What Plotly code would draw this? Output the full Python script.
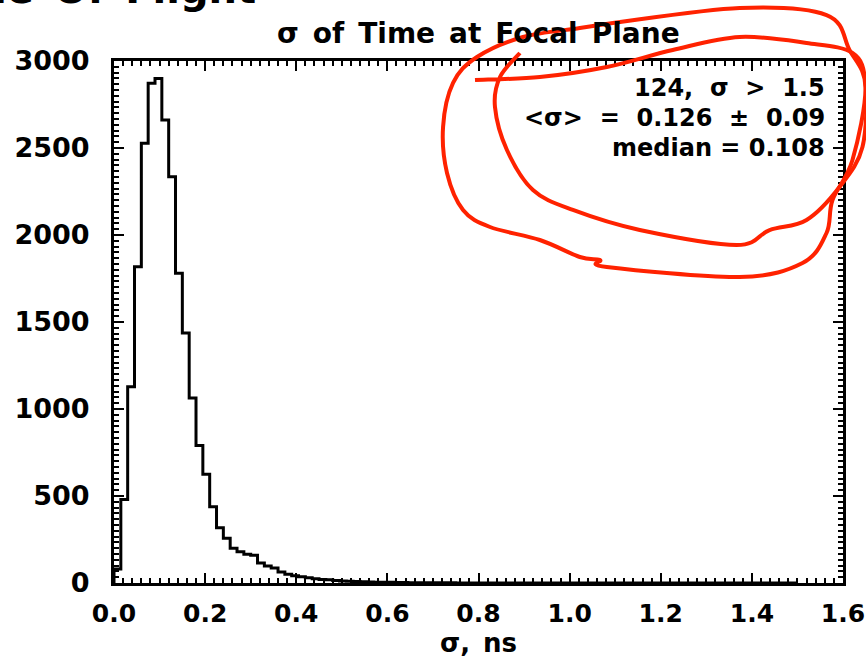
import numpy as np
import plotly.graph_objects as go

# ---- data ----
bin_width = 0.015
counts = [80, 480, 1128, 1818, 2527, 2872, 2900, 2661, 2335, 1780,
          1437, 1063, 790, 625, 438, 318, 257, 199, 180, 165,
          160, 115, 98, 86, 63, 50, 42, 36, 30, 25,
          20, 18, 15, 12, 10, 8, 7, 6, 5, 4,
          4, 3, 3, 2, 2, 2, 1, 1, 1, 1] + [0] * 50
x_ticks = [0.0, 0.2, 0.4, 0.6, 0.8, 1.0, 1.2, 1.4, 1.6]
x_tick_labels = ["0.0", "0.2", "0.4", "0.6", "0.8", "1.0", "1.2", "1.4", "1.6"]
y_ticks = [0, 500, 1000, 1500, 2000, 2500, 3000]
y_tick_labels = ["0", "500", "1000", "1500", "2000", "2500", "3000"]
title_text = "σ\u2002of\u2002Time\u2002at\u2002Focal\u2002Plane"
x_title = "σ,\u2002ns"
stats_lines = ["124,  σ  >  1.5", "<σ>  =  0.126  ±  0.09", "median = 0.108"]
clipped_title = "Time\u2002Of\u2002Flight"

edges = [i * bin_width for i in range(len(counts) + 1)]
xs = [0.0] + edges
ys = [0] + counts + [counts[-1]]

W, H = 866, 663
L, R, T, B = 113.5, 843.5, 61, 583

fig = go.Figure()
fig.add_trace(go.Scatter(x=xs, y=ys, mode="lines", line_shape="hv",
                         line=dict(color="black", width=3), showlegend=False,
                         hoverinfo="skip"))

FONT = "DejaVu Sans"
def fnt(size):
    return dict(family=FONT, size=size, color="black", weight="bold")

axis_common = dict(showline=True, linecolor="black", linewidth=3, mirror="allticks",
                   ticks="inside", ticklen=10, tickwidth=2, tickcolor="black",
                   showgrid=False, zeroline=False, ticklabeloverflow="allow",
                   automargin=False)

fig.update_xaxes(range=[0, 1.6], tickvals=x_ticks, ticktext=x_tick_labels,
                 minor=dict(dtick=0.02, ticklen=5, tickwidth=2, ticks="inside", tickcolor="black"),
                 title=dict(text=x_title, font=fnt(26), standoff=4),
                 ticklabelstandoff=6, tickfont=fnt(25),
                 **axis_common)
fig.update_yaxes(range=[0, 3000], tickvals=y_ticks, ticktext=y_tick_labels,
                 minor=dict(tick0=0, dtick=100 / 3, ticklen=5, tickwidth=2, ticks="inside",
                            tickcolor="black"),
                 ticklabelstandoff=16, tickfont=fnt(27),
                 **axis_common)


def dom(px, py):
    return (px - L) / (R - L), (B - py) / (B - T)


for k, line in enumerate(stats_lines):
    ax, ay = dom(827, 88 + 30 * k)
    fig.add_annotation(x=ax, y=ay, xref="x domain", yref="y domain",
                       text=line, showarrow=False, xanchor="right", yanchor="middle",
                       font=fnt(24))

tx, ty = dom(478, 33)
fig.add_annotation(text=title_text, x=tx, y=ty, xref="x domain", yref="y domain",
                   showarrow=False, xanchor="center", yanchor="middle", font=fnt(28))
cx, cy = dom(258, 14)
fig.add_annotation(text=clipped_title, x=cx, y=cy, xref="x domain", yref="y domain",
                   showarrow=False, xanchor="right", yanchor="bottom", font=fnt(40))

# red hand-drawn loops (decoration, pixel coords)
outer = [(613, 23), (740, 8), (827, 15), (850, 50), (866, 87), (853, 160), (833, 200),
         (827, 233), (803, 263), (740, 277), (607, 267), (600, 260), (580, 257), (540, 240),
         (490, 227), (463, 210), (447, 173), (443, 127), (453, 83), (477, 57), (523, 37),
         (580, 28), (613, 23)]
inner = [(520, 53), (500, 77), (495, 107), (507, 150), (533, 190), (573, 210), (640, 230),
         (737, 245), (770, 230), (807, 220), (840, 187), (863, 147), (866, 83), (853, 53),
         (807, 43), (740, 37), (673, 50), (607, 67), (540, 77), (475, 80)]


def smooth_path(pts):
    P = [dom(*p) for p in pts]
    d = "M {:.4f},{:.4f}".format(*P[0])
    for i in range(len(P) - 1):
        p0 = P[i - 1] if i > 0 else P[i]
        p1, p2 = P[i], P[i + 1]
        p3 = P[i + 2] if i + 2 < len(P) else P[i + 1]
        c1 = (p1[0] + (p2[0] - p0[0]) / 6, p1[1] + (p2[1] - p0[1]) / 6)
        c2 = (p2[0] - (p3[0] - p1[0]) / 6, p2[1] - (p3[1] - p1[1]) / 6)
        d += " C {:.4f},{:.4f} {:.4f},{:.4f} {:.4f},{:.4f}".format(*c1, *c2, *p2)
    return d


for pts in (outer, inner):
    fig.add_shape(type="path", path=smooth_path(pts), xref="paper", yref="paper",
                  line=dict(color="#ff2200", width=4), layer="above")

fig.update_layout(width=W, height=H, plot_bgcolor="white", paper_bgcolor="white",
                  margin=dict(l=L, r=W - R, t=T, b=H - B, pad=0), showlegend=False)

fig.write_html("out.html")
